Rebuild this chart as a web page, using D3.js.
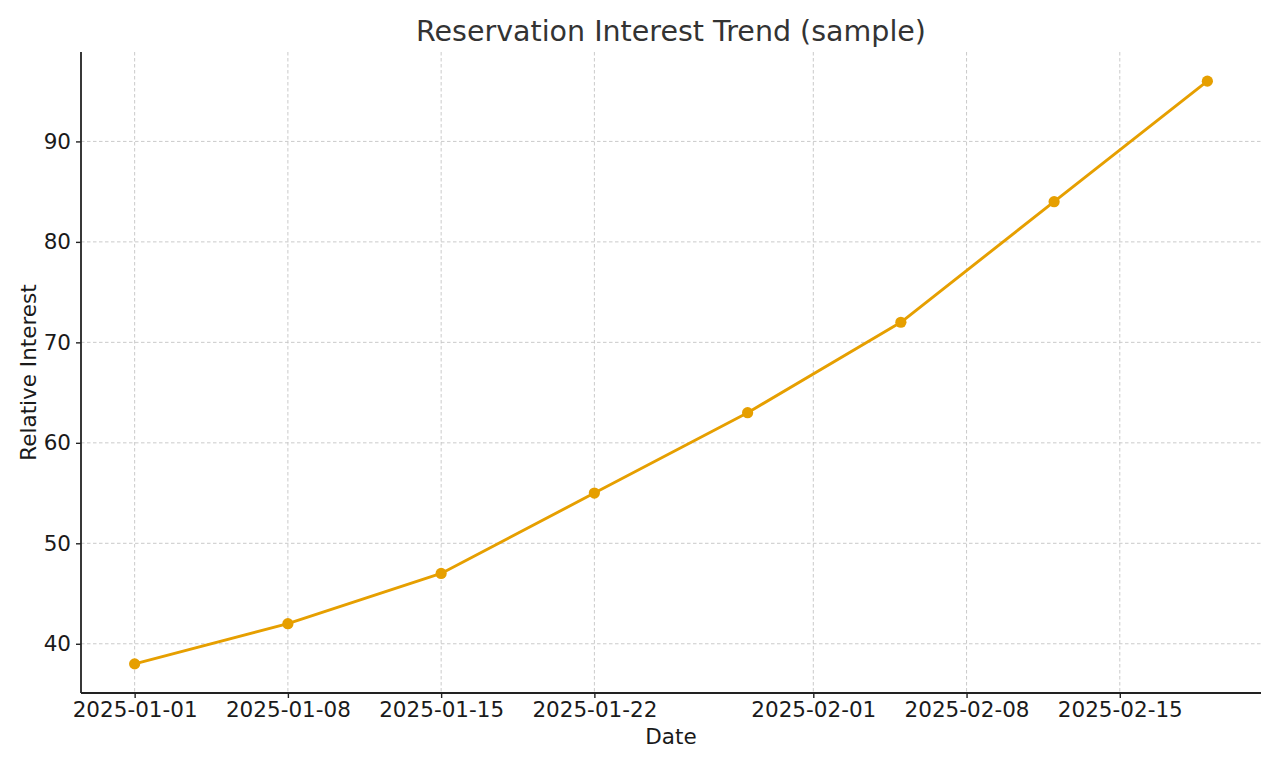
<!DOCTYPE html>
<html>
<head>
<meta charset="utf-8">
<script src="https://cdn.jsdelivr.net/npm/d3@7/dist/d3.min.js"></script>
<style>
  html, body { margin: 0; padding: 0; background: #fff; }
  text { font-family: "DejaVu Sans", sans-serif; }
</style>
</head>
<body>
<svg id="chart" width="1280" height="768"></svg>
<script>
const dates = ["2025-01-01", "2025-01-08", "2025-01-15", "2025-01-22", "2025-01-29", "2025-02-05", "2025-02-12", "2025-02-19"];
const interest = [38, 42, 47, 55, 63, 72, 84, 96];
const xTickLabels = ["2025-01-01", "2025-01-08", "2025-01-15", "2025-01-22", "2025-02-01", "2025-02-08", "2025-02-15"];
const yTicks = [40, 50, 60, 70, 80, 90];
const title = "Reservation Interest Trend (sample)";
const xLabel = "Date";
const yLabel = "Relative Interest";

const parse = d3.utcParse("%Y-%m-%d");
const data = dates.map((d, i) => ({ date: parse(d), value: interest[i] }));

const margin = { left: 81, right: 1261, top: 52, bottom: 693 };
const svg = d3.select("#chart");

const x0 = data[0].date.getTime(), x1 = data[data.length - 1].date.getTime();
const xPad = (x1 - x0) * 0.05;
const x = d3.scaleUtc().domain([new Date(x0 - xPad), new Date(x1 + xPad)]).range([margin.left, margin.right]);
const yMin = d3.min(interest), yMax = d3.max(interest);
const yPad = (yMax - yMin) * 0.05;
const y = d3.scaleLinear().domain([yMin - yPad, yMax + yPad]).range([margin.bottom, margin.top]);

const xTickDates = xTickLabels.map(parse);

// grid
const grid = svg.append("g");
grid.selectAll(".vg").data(xTickDates).join("line")
  .attr("x1", d => x(d)).attr("x2", d => x(d))
  .attr("y1", margin.top).attr("y2", margin.bottom)
  .attr("stroke", "#c4c4c4").attr("stroke-width", 0.9).attr("stroke-dasharray", "3.5,2.5");
grid.selectAll(".hg").data(yTicks).join("line")
  .attr("x1", margin.left).attr("x2", margin.right)
  .attr("y1", d => y(d)).attr("y2", d => y(d))
  .attr("stroke", "#c4c4c4").attr("stroke-width", 0.9).attr("stroke-dasharray", "3.5,2.5");

// axes
const xAxis = d3.axisBottom(x).tickValues(xTickDates).tickFormat(d3.utcFormat("%Y-%m-%d")).tickSizeOuter(0).tickSize(5).tickPadding(4);
const gx = svg.append("g").attr("transform", `translate(0,${margin.bottom})`).call(xAxis);
const yAxis = d3.axisLeft(y).tickValues(yTicks).tickSizeOuter(0).tickSize(5).tickPadding(5);
const gy = svg.append("g").attr("transform", `translate(${margin.left},0)`).call(yAxis);
[gx, gy].forEach(g => {
  g.select(".domain").attr("stroke", "#222").attr("stroke-width", 1.8);
  g.selectAll(".tick line").attr("stroke", "#222").attr("stroke-width", 1.4);
  g.selectAll(".tick text").attr("fill", "#1a1a1a").style("font-size", "21.5px").style("font-family", "DejaVu Sans");
});
gx.select(".domain").attr("d", `M${margin.left},0H${margin.right}`);
gy.select(".domain").attr("d", `M0,${margin.bottom}V${margin.top}`);

// line
const line = d3.line().x(d => x(d.date)).y(d => y(d.value));
svg.append("path").datum(data).attr("d", line)
  .attr("fill", "none").attr("stroke", "#E69F00").attr("stroke-width", 2.9).attr("stroke-linejoin", "round");
svg.selectAll(".pt").data(data).join("circle")
  .attr("cx", d => x(d.date)).attr("cy", d => y(d.value)).attr("r", 5.6)
  .attr("fill", "#E69F00");

// titles
svg.append("text").attr("x", (margin.left + margin.right) / 2).attr("y", 41)
  .attr("text-anchor", "middle").attr("fill", "#333").style("font-size", "28.5px").text(title);
svg.append("text").attr("x", (margin.left + margin.right) / 2).attr("y", 744)
  .attr("text-anchor", "middle").attr("fill", "#1a1a1a").style("font-size", "21.5px").text(xLabel);
svg.append("text").attr("transform", `translate(36,${(margin.top + margin.bottom) / 2}) rotate(-90)`)
  .attr("text-anchor", "middle").attr("fill", "#1a1a1a").style("font-size", "21.5px").text(yLabel);
</script>
</body>
</html>
